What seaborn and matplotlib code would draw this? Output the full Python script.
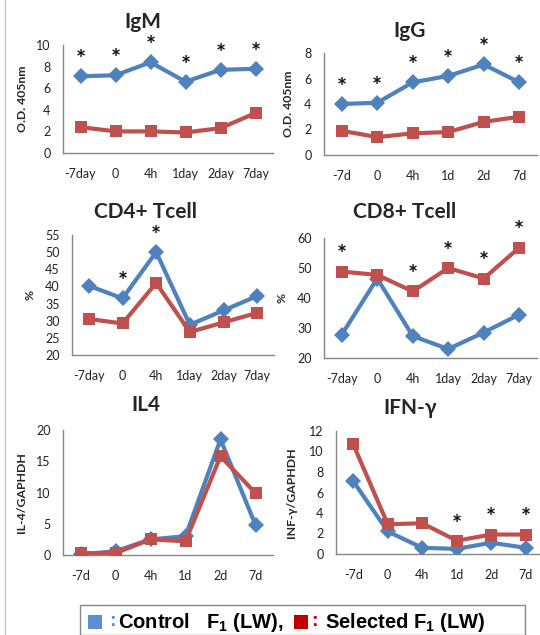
import pandas as pd
import matplotlib.pyplot as plt
import matplotlib.patches as mpatches
import matplotlib.lines as mlines
import seaborn as sns

# categories for each panel
days_long = ['-7day', '0', '4h', '1day', '2day', '7day']
days_short = ['-7d', '0', '4h', '1d', '2d', '7d']

# IgM
igm_control = [7.1, 7.2, 8.4, 6.6, 7.7, 7.8]
igm_selected = [2.4, 2.0, 2.0, 1.9, 2.3, 3.7]
igm_sig = [True, True, True, True, True, True]

# IgG
igg_control = [4.0, 4.1, 5.7, 6.2, 7.1, 5.7]
igg_selected = [1.9, 1.4, 1.7, 1.8, 2.6, 3.0]
igg_sig = [True, True, True, True, True, True]

# CD4+ T cell
cd4_control = [40.2, 36.5, 50.0, 28.8, 33.0, 37.2]
cd4_selected = [30.5, 29.2, 41.0, 26.7, 29.5, 32.3]
cd4_sig = [False, True, True, False, False, False]

# CD8+ T cell
cd8_control = [27.8, 46.5, 27.3, 23.0, 28.5, 34.5]
cd8_selected = [48.8, 47.7, 42.2, 50.0, 46.5, 56.8]
cd8_sig = [True, False, True, True, True, True]

# IL4
il4_control = [0.1, 0.6, 2.5, 3.0, 18.5, 4.8]
il4_selected = [0.3, 0.3, 2.5, 2.2, 15.8, 9.9]
il4_sig = [False] * 6

# IFN-gamma
ifn_control = [7.1, 2.2, 0.6, 0.5, 1.1, 0.6]
ifn_selected = [10.7, 2.9, 3.0, 1.3, 1.9, 1.9]
ifn_sig = [False, False, False, True, True, True]

BLUE = '#4F81BD'
RED = '#C0504D'
AXIS_GRAY = '#868686'

sns.set_style('white')
plt.rcParams['font.family'] = ['Lato', 'DejaVu Sans']
plt.rcParams['mathtext.default'] = 'regular'

W, H = 540, 635
fig = plt.figure(figsize=(W / 100, H / 100), dpi=100)


def px_axes(left, top, right, bottom):
    return fig.add_axes([left / W, 1 - bottom / H, (right - left) / W, (bottom - top) / H])


def draw_panel(box, title, labels, control, selected, sig, ylim, ystep, ylabel,
               title_xy, ylabel_x):
    ax = px_axes(*box)
    df = pd.DataFrame({
        'pos': list(range(len(labels))) * 2,
        'value': control + selected,
        'group': ['Control'] * len(labels) + ['Selected'] * len(labels),
    })
    sns.lineplot(data=df, x='pos', y='value', hue='group', style='group',
                 palette={'Control': BLUE, 'Selected': RED},
                 markers={'Control': 'D', 'Selected': 's'},
                 dashes=False, linewidth=3, markersize=8,
                 markeredgewidth=0, legend=False, ax=ax, zorder=3)
    ax.set_xlim(-0.5, len(labels) - 0.5)
    ax.set_ylim(*ylim)
    ticks = list(range(ylim[0], ylim[1] + 1, ystep))
    ax.set_yticks(ticks)
    ax.set_xticks(range(len(labels)))
    ax.set_xticklabels(labels)
    ax.tick_params(length=0, labelsize=9, colors='#222222')
    ax.tick_params(axis='x', pad=11)
    ax.tick_params(axis='y', pad=9)
    ax.set_xlabel('')
    ax.set_ylabel('')
    for side in ['top', 'right']:
        ax.spines[side].set_visible(False)
    for side in ['left', 'bottom']:
        ax.spines[side].set_color(AXIS_GRAY)
        ax.spines[side].set_linewidth(1)

    # significance stars above the higher of the two points
    for i, flag in enumerate(sig):
        if flag:
            top = max(control[i], selected[i])
            ax.annotate('*', xy=(i, top), xytext=(0, 3), textcoords='offset points',
                        ha='center', va='bottom', fontsize=17, fontweight='bold',
                        color='#111111', annotation_clip=False)

    fig.text(title_xy[0] / W, 1 - title_xy[1] / H, title, ha='center', va='center',
             fontsize=15, fontweight='bold')
    y_mid = (box[1] + box[3]) / 2
    fig.text(ylabel_x / W, 1 - y_mid / H, ylabel, rotation=90, ha='center', va='center',
             fontsize=8.8, fontweight='bold')
    return ax


draw_panel((63, 45, 273, 153), 'IgM', days_long, igm_control, igm_selected, igm_sig,
           (0, 10), 2, 'O.D. 405nm', (143, 22), 22)
draw_panel((324, 53, 537, 155), 'IgG', days_short, igg_control, igg_selected, igg_sig,
           (0, 8), 2, 'O.D. 405nm', (410, 31), 289)
draw_panel((72, 235, 274, 355), 'CD4+ Tcell', days_long, cd4_control, cd4_selected, cd4_sig,
           (20, 55), 5, '%', (146, 212), 30)
draw_panel((324, 238, 537, 358), 'CD8+ Tcell', days_long, cd8_control, cd8_selected, cd8_sig,
           (20, 60), 10, '%', (405, 212), 282)
draw_panel((63, 430, 273, 555), 'IL4', days_short, il4_control, il4_selected, il4_sig,
           (0, 20), 5, 'IL-4/GAPHDH', (146, 405), 22)
draw_panel((336, 431, 543, 554), 'IFN-γ', days_short, ifn_control, ifn_selected, ifn_sig,
           (0, 12), 2, 'INF-γ/GAPHDH', (410, 408), 291)

# faint frame line on the left edge
fig.add_artist(mlines.Line2D([5 / W, 5 / W], [0.0, 1.0], color='#c8c8c8', lw=1))

# bottom legend box
legend_font = ['Liberation Sans', 'DejaVu Sans']
fig.add_artist(mpatches.Rectangle((80 / W, 0.0), 445 / W, (H - 605) / H,
                                  transform=fig.transFigure, fill=False,
                                  edgecolor='#888888', lw=1))
fig.add_artist(mpatches.Rectangle((88 / W, 1 - 629 / H), 14 / W, 14 / H,
                                  transform=fig.transFigure, color='#5B8ED6', lw=0))
fig.text(109 / W, 1 - 622 / H, ':', color='#5B8ED6', fontsize=14, fontweight='bold',
         ha='left', va='center', family=legend_font)
fig.text(118 / W, 1 - 622 / H, 'Control   F$_1$ (LW),', color='black', fontsize=14.5,
         fontweight='bold', ha='left', va='center', family=legend_font)
fig.add_artist(mpatches.Rectangle((294 / W, 1 - 629 / H), 14 / W, 14 / H,
                                  transform=fig.transFigure, color='#C00000', lw=0))
fig.text(311 / W, 1 - 622 / H, ':', color='#C00000', fontsize=14, fontweight='bold',
         ha='left', va='center', family=legend_font)
fig.text(325 / W, 1 - 622 / H, 'Selected F$_1$ (LW)', color='black', fontsize=14.5,
         fontweight='bold', ha='left', va='center', family=legend_font)

fig.savefig('out.png', dpi=100)
